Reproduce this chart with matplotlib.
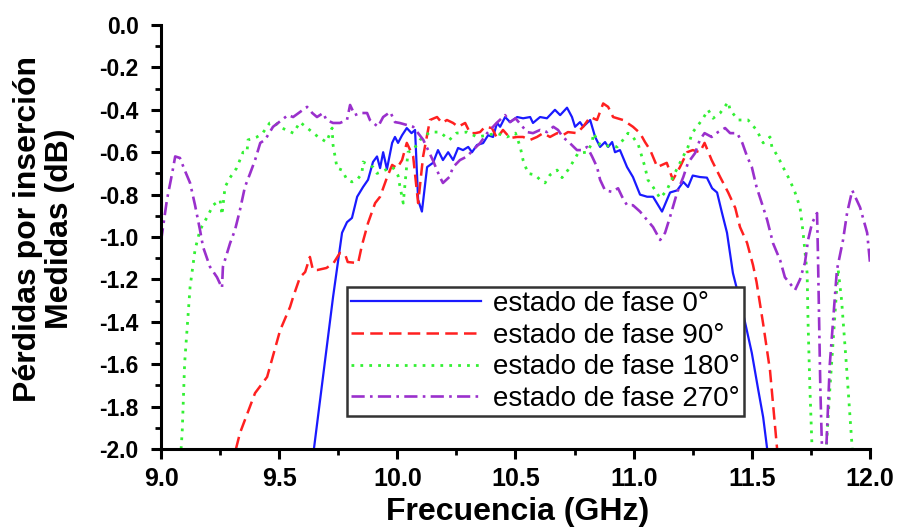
import matplotlib
matplotlib.use("Agg")
import matplotlib.pyplot as plt
from matplotlib.ticker import MultipleLocator, FormatStrFormatter

plt.rcParams['font.family'] = ['Liberation Sans', 'DejaVu Sans']
plt.rcParams['axes.unicode_minus'] = False

# measured insertion loss per phase state (GHz, dB)
f_0 = [9.647, 9.728, 9.766, 9.787, 9.808, 9.83, 9.855, 9.876, 9.897, 9.914, 9.927, 9.94,
       9.956, 9.978, 9.99, 10.003, 10.02, 10.04, 10.06, 10.075, 10.088, 10.104, 10.126,
       10.151, 10.172, 10.193, 10.215, 10.236, 10.257, 10.278, 10.30, 10.316, 10.337,
       10.363, 10.384, 10.405, 10.422, 10.435, 10.456, 10.477, 10.507, 10.532, 10.562,
       10.574, 10.604, 10.633, 10.667, 10.689, 10.718, 10.739, 10.752, 10.773, 10.786,
       10.816, 10.837, 10.858, 10.879, 10.892, 10.909, 10.921, 10.942, 10.972, 10.997,
       11.027, 11.057, 11.082, 11.12, 11.154, 11.184, 11.21, 11.23, 11.25, 11.28, 11.31,
       11.332, 11.353, 11.374, 11.395, 11.42, 11.463, 11.50, 11.527, 11.548, 11.565]
il_0 = [-2.0, -1.283, -0.98, -0.93, -0.91, -0.81, -0.764, -0.73, -0.646, -0.62, -0.675, -0.60,
        -0.68, -0.556, -0.528, -0.556, -0.52, -0.486, -0.51, -0.495, -0.825, -0.88, -0.67,
        -0.65, -0.59, -0.637, -0.60, -0.637, -0.58, -0.59, -0.575, -0.60, -0.566,
        -0.557, -0.52, -0.528, -0.462, -0.48, -0.434, -0.458, -0.434, -0.44, -0.434,
        -0.462, -0.434, -0.44, -0.40, -0.425, -0.39, -0.434, -0.48, -0.458, -0.48,
        -0.448, -0.528, -0.575, -0.552, -0.575, -0.552, -0.60, -0.59, -0.67, -0.717,
        -0.80, -0.81, -0.81, -0.88, -0.79, -0.78, -0.74, -0.764, -0.71, -0.717, -0.72,
        -0.77, -0.79, -0.887, -0.98, -1.17, -1.36, -1.547, -1.72, -1.85, -2.0]

f_90 = [9.317, 9.334, 9.398, 9.449, 9.504, 9.546, 9.56, 9.588, 9.61, 9.63, 9.643, 9.66,
        9.70, 9.73, 9.757, 9.78, 9.79, 9.834, 9.85, 9.876, 9.906, 9.927, 9.956, 9.978,
        9.999, 10.02, 10.04, 10.067, 10.088, 10.109, 10.138, 10.168, 10.189, 10.21, 10.236,
        10.257, 10.287, 10.308, 10.33, 10.35, 10.371, 10.40, 10.422, 10.447, 10.477, 10.507,
        10.532, 10.562, 10.591, 10.617, 10.646, 10.676, 10.70, 10.722, 10.76, 10.786,
        10.816, 10.845, 10.871, 10.892, 10.913, 10.955, 10.997, 11.027, 11.048, 11.07,
        11.10, 11.14, 11.166, 11.196, 11.226, 11.25, 11.28, 11.30, 11.33, 11.366, 11.40,
        11.43, 11.45, 11.48, 11.505, 11.52, 11.548, 11.577, 11.607]
il_90 = [-2.0, -1.925, -1.736, -1.66, -1.44, -1.33, -1.28, -1.19, -1.165, -1.094, -1.156, -1.156,
         -1.146, -1.123, -1.075, -1.085, -1.118, -1.123, -1.04, -0.934, -0.84, -0.81, -0.72, -0.66,
         -0.675, -0.637, -0.556, -0.62, -0.84, -0.62, -0.448, -0.434, -0.462, -0.448, -0.462,
         -0.48, -0.462, -0.51, -0.51, -0.505, -0.48, -0.486, -0.533, -0.495, -0.533, -0.528,
         -0.528, -0.542, -0.528, -0.51, -0.528, -0.51, -0.52, -0.505, -0.51, -0.48,
         -0.434, -0.448, -0.37, -0.386, -0.434, -0.448, -0.48, -0.51, -0.552, -0.59,
         -0.67, -0.65, -0.73, -0.67, -0.60, -0.59, -0.60, -0.556, -0.637, -0.717, -0.79,
         -0.863, -0.953, -1.028, -1.132, -1.212, -1.41, -1.63, -2.0]

f_180 = [9.085, 9.09, 9.10, 9.123, 9.144, 9.165, 9.20, 9.22, 9.25, 9.258, 9.271, 9.292,
         9.32, 9.347, 9.364, 9.368, 9.406, 9.43, 9.46, 9.48, 9.50, 9.56, 9.588, 9.64,
         9.665, 9.70, 9.724, 9.728, 9.745, 9.766, 9.787, 9.808, 9.83, 9.85, 9.855, 9.897,
         9.914, 9.98, 10.003, 10.01, 10.025, 10.045, 10.067, 10.096, 10.138, 10.18, 10.22,
         10.25, 10.295, 10.337, 10.38, 10.42, 10.464, 10.50, 10.52, 10.532, 10.553, 10.583,
         10.604, 10.625, 10.646, 10.676, 10.697, 10.722, 10.743, 10.765, 10.803, 10.824,
         10.83, 10.858, 10.93, 10.955, 10.976, 10.997, 11.02, 11.048, 11.06, 11.082, 11.112,
         11.14, 11.166, 11.196, 11.23, 11.247, 11.273, 11.294, 11.315, 11.336, 11.366,
         11.40, 11.408, 11.442, 11.484, 11.52, 11.548, 11.577, 11.585, 11.61, 11.632,
         11.66, 11.683, 11.704, 11.717, 11.734, 11.738, 11.746, 11.755, 11.785, 11.815,
         11.83, 11.865, 11.88, 11.90, 11.925]
il_180 = [-2.0, -1.91, -1.595, -1.236, -1.06, -0.967, -0.896, -0.85, -0.825, -0.896, -0.764, -0.72,
          -0.675, -0.60, -0.60, -0.542, -0.528, -0.51, -0.462, -0.458, -0.48, -0.51, -0.458, -0.505,
          -0.528, -0.552, -0.486, -0.566, -0.675, -0.684, -0.73, -0.74, -0.73, -0.70, -0.646, -0.67,
          -0.70, -0.67, -0.71, -0.755, -0.84, -0.60, -0.59, -0.542, -0.505, -0.505, -0.542,
          -0.51, -0.505, -0.528, -0.52, -0.51, -0.528, -0.51, -0.575, -0.637, -0.70, -0.707,
          -0.73, -0.745, -0.707, -0.684, -0.72, -0.684, -0.646, -0.604, -0.60, -0.556,
          -0.51, -0.566, -0.575, -0.542, -0.51, -0.528, -0.566, -0.67, -0.73, -0.764, -0.817,
          -0.78, -0.717, -0.65, -0.575, -0.51, -0.472, -0.44, -0.40, -0.44, -0.415,
          -0.363, -0.40, -0.448, -0.448, -0.495, -0.556, -0.528, -0.575, -0.62, -0.67,
          -0.73, -0.79, -0.86, -0.98, -1.17, -1.406, -1.72, -2.0, -2.3, -2.0,
          -1.72, -1.15, -1.3, -1.6, -2.0]

f_270 = [9.0, 9.025, 9.047, 9.06, 9.08, 9.10, 9.123, 9.144, 9.165, 9.178, 9.207, 9.237,
         9.258, 9.262, 9.292, 9.313, 9.334, 9.355, 9.377, 9.398, 9.42, 9.44, 9.474, 9.495,
         9.537, 9.559, 9.618, 9.64, 9.66, 9.686, 9.70, 9.728, 9.757, 9.787, 9.80, 9.82,
         9.842, 9.872, 9.884, 9.918, 9.94, 9.97, 9.99, 10.01, 10.067, 10.11, 10.15, 10.18,
         10.193, 10.22, 10.236, 10.265, 10.295, 10.32, 10.35, 10.38, 10.42, 10.456, 10.477,
         10.50, 10.549, 10.574, 10.604, 10.633, 10.66, 10.68, 10.70, 10.73, 10.76, 10.78,
         10.803, 10.824, 10.845, 10.858, 10.879, 10.909, 10.934, 10.951, 10.972, 10.997,
         11.027, 11.057, 11.082, 11.112, 11.133, 11.154, 11.184, 11.21, 11.23, 11.26, 11.28,
         11.30, 11.33, 11.357, 11.387, 11.408, 11.438, 11.46, 11.48, 11.50, 11.52, 11.548,
         11.565, 11.59, 11.62, 11.64, 11.66, 11.683, 11.704, 11.725, 11.738, 11.755, 11.776,
         11.78, 11.785, 11.79, 11.797, 11.806, 11.815, 11.83, 11.86, 11.886, 11.903, 11.925,
         11.958, 11.988, 12.0]
il_270 = [-1.02, -0.825, -0.70, -0.62, -0.627, -0.684, -0.745, -0.85, -0.967, -1.047, -1.14, -1.19,
          -1.24, -1.14, -1.03, -0.967, -0.873, -0.764, -0.70, -0.637, -0.556, -0.542, -0.48, -0.462,
          -0.425, -0.434, -0.386, -0.415, -0.434, -0.415, -0.448, -0.462, -0.462, -0.448, -0.377, -0.425,
          -0.415, -0.415, -0.448, -0.48, -0.434, -0.41, -0.458, -0.462, -0.48, -0.542, -0.637, -0.717,
          -0.745, -0.717, -0.67, -0.637, -0.62, -0.59, -0.557, -0.51, -0.462, -0.425, -0.458,
          -0.44, -0.505, -0.51, -0.495, -0.505, -0.48, -0.495, -0.528, -0.557, -0.59, -0.59,
          -0.575, -0.62, -0.67, -0.73, -0.78, -0.787, -0.77, -0.81, -0.85, -0.85,
          -0.88, -0.92, -0.953, -1.014, -0.98, -0.905, -0.79, -0.717, -0.65, -0.604, -0.542,
          -0.51, -0.528, -0.505, -0.486, -0.51, -0.51, -0.557, -0.62, -0.67, -0.764, -0.86,
          -0.92, -1.03, -1.11, -1.19, -1.217, -1.25, -1.20, -1.12, -1.014, -0.934, -0.887,
          -1.094, -1.41, -1.72, -2.0, -2.3, -2.0, -1.6, -1.156, -1.014, -0.887, -0.78,
          -0.86, -0.98, -1.12]

labels = ['estado de fase 0°', 'estado de fase 90°', 'estado de fase 180°', 'estado de fase 270°']

fig = plt.figure(figsize=(8.98, 5.29), dpi=100)
ax = fig.add_axes([0.1793, 0.1512, 0.7895, 0.8015])

ax.plot(f_0, il_0, color='#1a1aff', lw=1.6, label=labels[0])
ax.plot(f_90, il_90, color='#ff2020', lw=1.8, dashes=(5, 2.5), label=labels[1])
ax.plot(f_180, il_180, color='#33f033', lw=2.0, dashes=(1, 2.2), label=labels[2])
ax.plot(f_270, il_270, color='#9a30cc', lw=1.9, dashes=(5, 2, 1, 2), label=labels[3])

ax.set_xlim(9.0, 12.0)
ax.set_ylim(-2.0, 0.0)
ax.xaxis.set_major_locator(MultipleLocator(0.5))
ax.xaxis.set_minor_locator(MultipleLocator(0.25))
ax.yaxis.set_major_locator(MultipleLocator(0.2))
ax.yaxis.set_minor_locator(MultipleLocator(0.1))
ax.xaxis.set_major_formatter(FormatStrFormatter('%.1f'))
ax.yaxis.set_major_formatter(FormatStrFormatter('%.1f'))

ax.spines['top'].set_visible(False)
ax.spines['right'].set_visible(False)
ax.spines['left'].set_linewidth(2.2)
ax.spines['bottom'].set_linewidth(2.2)
ax.tick_params(which='major', direction='out', length=7, width=2.2)
ax.tick_params(which='minor', direction='out', length=4, width=2.0)
ax.tick_params(axis='x', which='major', labelsize=18, pad=6)
ax.tick_params(axis='y', which='major', labelsize=16.5, pad=9)
for t in ax.get_xticklabels() + ax.get_yticklabels():
    t.set_fontweight('bold')

ax.set_xlabel('Frecuencia (GHz)', fontsize=23, fontweight='bold')
ax.xaxis.set_label_coords(0.503, -0.112)
ax.set_ylabel('Pérdidas por inserción\nMedidas (dB)', fontsize=23, fontweight='bold',
              linespacing=1.1)
ax.yaxis.set_label_coords(-0.121, 0.52)

leg = ax.legend(loc='upper left', bbox_to_anchor=(0.262, 0.382), borderaxespad=0,
                fontsize=20, handlelength=4.7, handletextpad=0.4, labelspacing=0.2,
                borderpad=0.15, fancybox=False, framealpha=1)
leg.get_frame().set_edgecolor('#333333')
leg.get_frame().set_linewidth(1.8)

fig.savefig('out.png', dpi=100)
